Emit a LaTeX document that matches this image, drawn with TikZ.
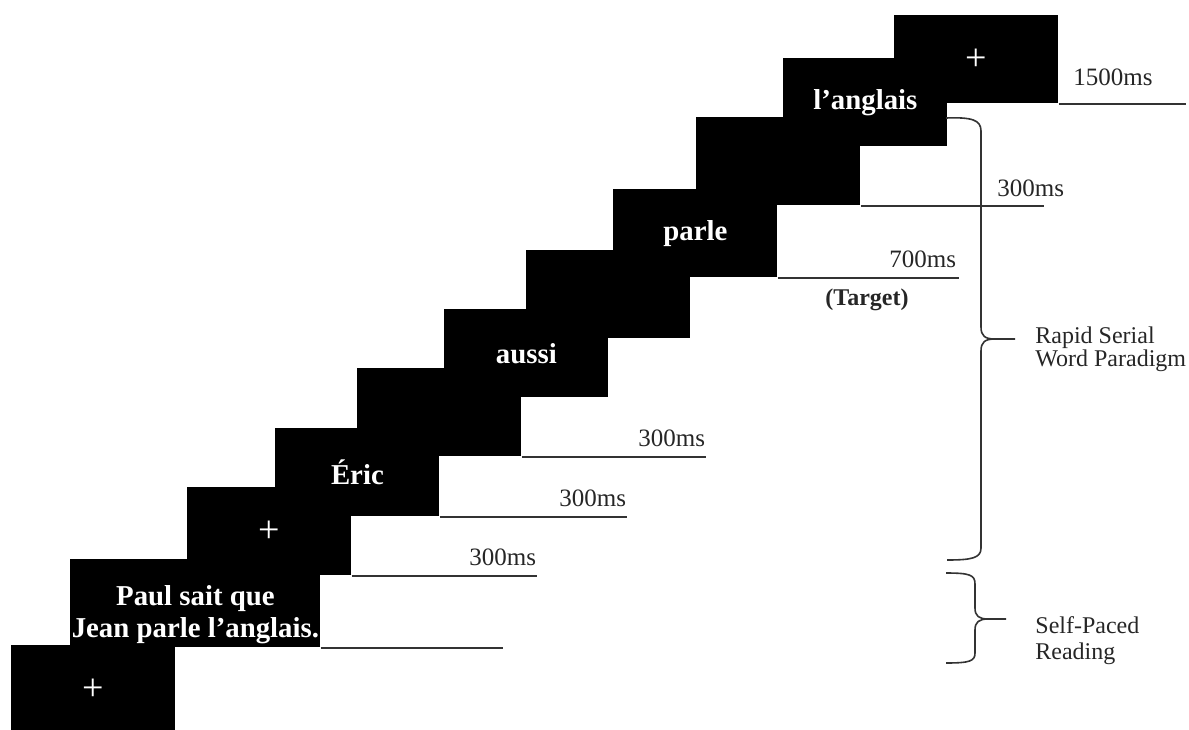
\documentclass[tikz,border=0pt]{standalone}
\usepackage{fontspec}
\setmainfont{Liberation Serif}

\begin{document}
\begin{tikzpicture}[x=0.5pt, y=-0.5pt,
  screen/.style={fill=black, text=white, inner sep=0pt, anchor=north west,
    minimum width=82pt, minimum height=44pt,
    font=\fontsize{14.4}{16}\selectfont\bfseries},
  cross/.style={screen, font=\fontsize{19}{19}\selectfont},
  timeline/.style={line width=0.8pt, black!80},
  dur/.style={inner sep=0pt, text=black!85, font=\fontsize{12.5}{14}\selectfont},
  brace/.style={line width=0.8pt, black!80}]
  \useasboundingbox (0,0) rectangle (1189,729);

  \node[cross] (fixA) at (11,645) {+};
  \node[screen, minimum width=125pt, align=center] (sentence) at (70,559)
    {\rule{0pt}{21pt}Paul sait que\\Jean parle l’anglais.};
  \node[cross] (fixB) at (187,487) {+};
  \node[screen] (eric) at (275,428) {Éric};
  \node[screen] (blankA) at (357,368) {};
  \node[screen] (aussi) at (444,309) {aussi};
  \node[screen] (blankB) at (526,250) {};
  \node[screen] (parle) at (613,189) {parle};
  \node[screen] (blankC) at (696,117) {};
  \node[cross] (fixEnd) at (894,15) {+};
  \node[screen] (anglais) at (783,58) {l’anglais};

  \draw[timeline] (sentence.south east) -- ++(182,0) coordinate (sentEnd);
  \draw[timeline] (fixB.south east) -- ++(185,0) coordinate (fixBEnd)
    node[dur, anchor=base east, yshift=5pt] (durFixB) {300ms};
  \draw[timeline] (eric.south east) -- ++(187,0) coordinate (ericEnd)
    node[dur, anchor=base east, yshift=5pt] (durEric) {300ms};
  \draw[timeline] (blankA.south east) -- ++(184,0) coordinate (blankAEnd)
    node[dur, anchor=base east, yshift=5pt] (durBlankA) {300ms};
  \draw[timeline] (parle.south east) -- ++(181,0) coordinate (parleEnd)
    node[dur, anchor=base east, xshift=-1pt, yshift=5pt] (durParle) {700ms};
  \node[dur, anchor=base, font=\fontsize{12}{14}\selectfont\bfseries]
    (target) at (867,305) {(Target)};
  \draw[timeline] (blankC.south east) -- ++(183,0) coordinate (blankCEnd);
  \node[dur, anchor=base west] (durBlankC) at (997,196) {300ms};
  \draw[timeline] (fixEnd.south east) -- ++(127,0) coordinate (fixEndEnd);
  \node[dur, anchor=base west] (durFixEnd) at (1073,85) {1500ms};

  \draw[brace] (946,118) .. controls (972,117) and (981,120) .. (981,131)
    -- (981,327) .. controls (981,336) and (985,339) .. (995,339) -- (1015,339)
    -- (995,339) .. controls (985,339) and (981,342) .. (981,351)
    -- (981,548) .. controls (981,558) and (972,560) .. (947,560);
  \node[dur, anchor=west, align=left, text=black!85,
    font=\fontsize{12}{11.5}\selectfont] (rsvp) at (1035,349)
    {Rapid Serial\\Word Paradigm};

  \draw[brace] (946,573) .. controls (970,573) and (975,575) .. (975,584)
    -- (975,608) .. controls (975,616) and (979,619) .. (988,619) -- (1006,619)
    -- (988,619) .. controls (979,619) and (975,622) .. (975,630)
    -- (975,653) .. controls (975,661) and (970,663) .. (946,663);
  \node[dur, anchor=west, align=left, text=black!85,
    font=\fontsize{12}{13}\selectfont] (spr) at (1035,641)
    {Self-Paced\\Reading};
\end{tikzpicture}
\end{document}
